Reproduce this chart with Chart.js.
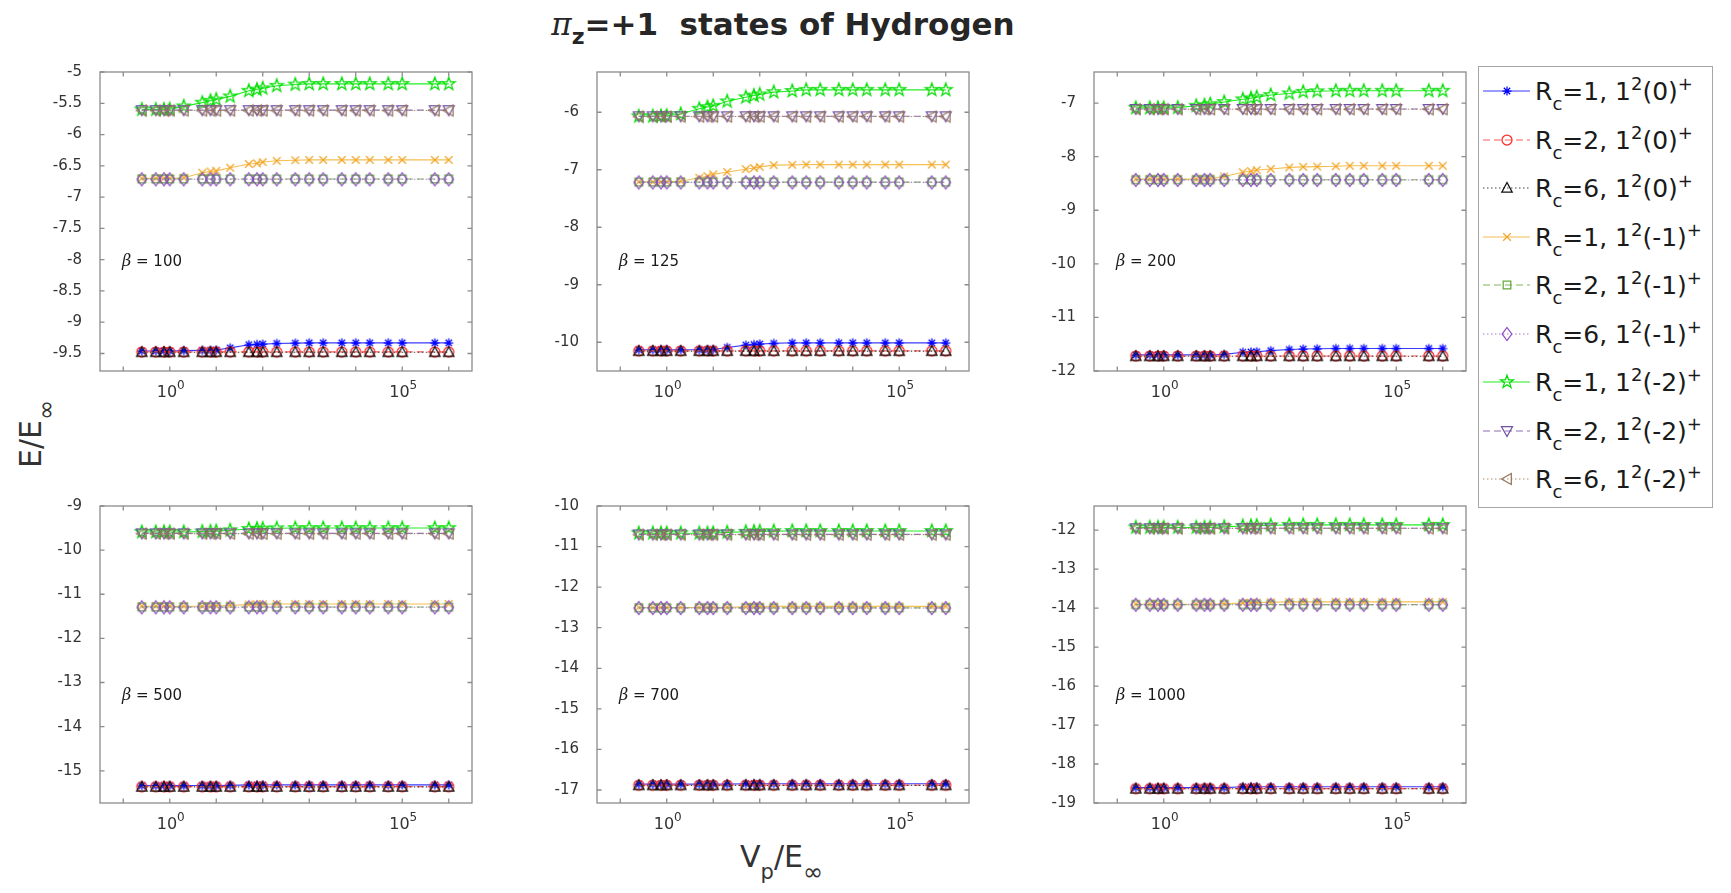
<!DOCTYPE html>
<html>
<head>
<meta charset="utf-8">
<title>pi_z=+1 states of Hydrogen</title>
<script src="https://cdn.jsdelivr.net/npm/chart.js@4.4.1/dist/chart.umd.min.js"></script>
<style>
  html, body { margin: 0; padding: 0; background: #fff; }
  body { width: 1731px; height: 893px; position: relative; overflow: hidden; font-family: 'DejaVu Sans', sans-serif; color: #262626; }
  .panel { position: absolute; }
  .title { position: absolute; left: 0; width: 1566px; top: 6px; text-align: center; font: bold 31px/31px 'DejaVu Sans', sans-serif; white-space: nowrap; }
  .xlabel { position: absolute; left: 0; width: 1563px; top: 842px; text-align: center; font: 30px/30px 'DejaVu Sans', sans-serif; white-space: nowrap; color: #333; }
  .ylabel { position: absolute; left: 32px; top: 434px; transform: translate(-50%, -50%) rotate(-90deg); font: 30px/30px 'DejaVu Sans', sans-serif; white-space: nowrap; color: #333; }
  .lo { position: relative; }
  .legend { position: absolute; left: 1478px; top: 66px; width: 235px; height: 442px; box-sizing: border-box; border: 1.5px solid #a6a6a6; background: #fff; }
  .row { position: absolute; left: 0; width: 100%; height: 48px; }
  .row canvas { position: absolute; left: 4px; top: 14px; }
  .row .txt { position: absolute; left: 56px; top: 12px; font: 25px/25px 'DejaVu Sans', sans-serif; white-space: nowrap; color: #1a1a1a; }
</style>
</head>
<body>
<div class="title"><span style="font: italic 400 31px 'DejaVu Serif', serif;">π</span><span class="lo" style="font-size:22px; top:9px;">z</span>=+1&nbsp;&nbsp;states of Hydrogen</div>
<div class="xlabel">V<span class="lo" style="font-size:21px; top:12px;">p</span>/E<span class="lo" style="font-size:24px; top:13px;">∞</span></div>
<div class="ylabel">E/E<span class="lo" style="font-size:24px; top:13px;">∞</span></div>
<div class="legend" id="legend"></div>
<script>
// V_p / E_inf sample points (same for every panel)
const vp = [0.25, 0.5, 0.75, 1, 2, 5, 7.5, 10, 20, 50, 75, 100, 200, 500, 1000, 2000, 5000, 1e4, 2e4, 5e4, 1e5, 5e5, 1e6];
const betas = [100, 125, 200, 500, 700, 1000];

// x ticks (log axis), only 10^0 and 10^5 labelled
const xTickValues = [0.1, 1, 10, 100, 1000, 1e4, 1e5, 1e6];
const xTickExp = ['', '0', '', '', '', '', '5', ''];

// y ticks and limits per panel
const yTicks100 = [-9.5, -9, -8.5, -8, -7.5, -7, -6.5, -6, -5.5, -5];
const yTicks125 = [-10, -9, -8, -7, -6];
const yTicks200 = [-12, -11, -10, -9, -8, -7];
const yTicks500 = [-15, -14, -13, -12, -11, -10, -9];
const yTicks700 = [-17, -16, -15, -14, -13, -12, -11, -10];
const yTicks1000 = [-19, -18, -17, -16, -15, -14, -13, -12];
const yMins = [-9.78, -10.5, -12, -15.73, -17.32, -19];
const yMaxs = [-5, -5.3, -6.42, -9, -10, -11.38];

// legend labels
const legendRc = [1, 2, 6, 1, 2, 6, 1, 2, 6];
const legendState = ['0', '0', '0', '-1', '-1', '-1', '-2', '-2', '-2'];

// beta = 100
const b100_R1_0 = [-9.46, -9.46, -9.46, -9.46, -9.455, -9.45, -9.45, -9.445, -9.41, -9.36, -9.355, -9.35, -9.34, -9.335, -9.33, -9.33, -9.33, -9.33, -9.33, -9.33, -9.33, -9.33, -9.33];
const b100_R2_0 = [-9.475, -9.475, -9.475, -9.475, -9.475, -9.475, -9.475, -9.475, -9.475, -9.475, -9.475, -9.475, -9.475, -9.475, -9.475, -9.475, -9.475, -9.475, -9.475, -9.475, -9.475, -9.475, -9.475];
const b100_R6_0 = [-9.48, -9.48, -9.48, -9.48, -9.48, -9.48, -9.48, -9.48, -9.48, -9.48, -9.48, -9.48, -9.48, -9.48, -9.48, -9.48, -9.48, -9.48, -9.48, -9.48, -9.48, -9.48, -9.48];
const b100_R1_1 = [-6.70, -6.70, -6.70, -6.70, -6.69, -6.61, -6.59, -6.58, -6.53, -6.47, -6.46, -6.44, -6.42, -6.41, -6.405, -6.405, -6.405, -6.405, -6.405, -6.405, -6.405, -6.405, -6.405];
const b100_R2_1 = [-6.71, -6.71, -6.71, -6.71, -6.71, -6.71, -6.71, -6.71, -6.71, -6.71, -6.71, -6.71, -6.71, -6.71, -6.71, -6.71, -6.71, -6.71, -6.71, -6.71, -6.71, -6.71, -6.71];
const b100_R6_1 = [-6.715, -6.715, -6.715, -6.715, -6.715, -6.715, -6.715, -6.715, -6.715, -6.715, -6.715, -6.715, -6.715, -6.715, -6.715, -6.715, -6.715, -6.715, -6.715, -6.715, -6.715, -6.715, -6.715];
const b100_R1_2 = [-5.60, -5.60, -5.60, -5.595, -5.55, -5.49, -5.46, -5.44, -5.39, -5.30, -5.28, -5.26, -5.22, -5.20, -5.19, -5.19, -5.19, -5.19, -5.19, -5.19, -5.19, -5.19, -5.19];
const b100_R2_2 = [-5.61, -5.61, -5.61, -5.61, -5.61, -5.61, -5.61, -5.61, -5.61, -5.61, -5.61, -5.61, -5.61, -5.61, -5.61, -5.61, -5.61, -5.61, -5.61, -5.61, -5.61, -5.61, -5.61];
const b100_R6_2 = [-5.615, -5.615, -5.615, -5.615, -5.615, -5.615, -5.615, -5.615, -5.615, -5.615, -5.615, -5.615, -5.615, -5.615, -5.615, -5.615, -5.615, -5.615, -5.615, -5.615, -5.615, -5.615, -5.615];

// beta = 125
const b125_R1_0 = [-10.13, -10.13, -10.13, -10.13, -10.13, -10.13, -10.13, -10.125, -10.09, -10.05, -10.04, -10.03, -10.02, -10.01, -10.01, -10.01, -10.01, -10.01, -10.01, -10.01, -10.01, -10.01, -10.01];
const b125_R2_0 = [-10.15, -10.15, -10.15, -10.15, -10.15, -10.15, -10.15, -10.15, -10.15, -10.15, -10.15, -10.15, -10.15, -10.15, -10.15, -10.15, -10.15, -10.15, -10.15, -10.15, -10.15, -10.15, -10.15];
const b125_R6_0 = [-10.155, -10.155, -10.155, -10.155, -10.155, -10.155, -10.155, -10.155, -10.155, -10.155, -10.155, -10.155, -10.155, -10.155, -10.155, -10.155, -10.155, -10.155, -10.155, -10.155, -10.155, -10.155, -10.155];
const b125_R1_1 = [-7.21, -7.21, -7.21, -7.21, -7.20, -7.14, -7.11, -7.08, -7.04, -6.99, -6.97, -6.95, -6.92, -6.915, -6.91, -6.91, -6.91, -6.91, -6.91, -6.91, -6.91, -6.91, -6.91];
const b125_R2_1 = [-7.215, -7.215, -7.215, -7.215, -7.215, -7.215, -7.215, -7.215, -7.215, -7.215, -7.215, -7.215, -7.215, -7.215, -7.215, -7.215, -7.215, -7.215, -7.215, -7.215, -7.215, -7.215, -7.215];
const b125_R6_1 = [-7.22, -7.22, -7.22, -7.22, -7.22, -7.22, -7.22, -7.22, -7.22, -7.22, -7.22, -7.22, -7.22, -7.22, -7.22, -7.22, -7.22, -7.22, -7.22, -7.22, -7.22, -7.22, -7.22];
const b125_R1_2 = [-6.07, -6.07, -6.065, -6.06, -6.03, -5.94, -5.91, -5.89, -5.81, -5.74, -5.71, -5.69, -5.65, -5.63, -5.61, -5.61, -5.61, -5.61, -5.61, -5.61, -5.61, -5.61, -5.61];
const b125_R2_2 = [-6.07, -6.07, -6.07, -6.07, -6.07, -6.07, -6.07, -6.07, -6.07, -6.07, -6.07, -6.07, -6.07, -6.07, -6.07, -6.07, -6.07, -6.07, -6.07, -6.07, -6.07, -6.07, -6.07];
const b125_R6_2 = [-6.075, -6.075, -6.075, -6.075, -6.075, -6.075, -6.075, -6.075, -6.075, -6.075, -6.075, -6.075, -6.075, -6.075, -6.075, -6.075, -6.075, -6.075, -6.075, -6.075, -6.075, -6.075, -6.075];

// beta = 200
const b200_R1_0 = [-11.70, -11.70, -11.70, -11.70, -11.70, -11.70, -11.70, -11.70, -11.69, -11.65, -11.645, -11.64, -11.62, -11.60, -11.59, -11.585, -11.58, -11.58, -11.58, -11.58, -11.58, -11.58, -11.58];
const b200_R2_0 = [-11.72, -11.72, -11.72, -11.72, -11.72, -11.72, -11.72, -11.72, -11.72, -11.72, -11.72, -11.72, -11.72, -11.72, -11.72, -11.72, -11.72, -11.72, -11.72, -11.72, -11.72, -11.72, -11.72];
const b200_R6_0 = [-11.725, -11.725, -11.725, -11.725, -11.725, -11.725, -11.725, -11.725, -11.725, -11.725, -11.725, -11.725, -11.725, -11.725, -11.725, -11.725, -11.725, -11.725, -11.725, -11.725, -11.725, -11.725, -11.725];
const b200_R1_1 = [-8.42, -8.42, -8.42, -8.42, -8.42, -8.42, -8.42, -8.41, -8.37, -8.29, -8.27, -8.25, -8.23, -8.20, -8.19, -8.185, -8.18, -8.17, -8.17, -8.17, -8.17, -8.17, -8.17];
const b200_R2_1 = [-8.43, -8.43, -8.43, -8.43, -8.43, -8.43, -8.43, -8.43, -8.43, -8.43, -8.43, -8.43, -8.43, -8.43, -8.43, -8.43, -8.43, -8.43, -8.43, -8.43, -8.43, -8.43, -8.43];
const b200_R6_1 = [-8.435, -8.435, -8.435, -8.435, -8.435, -8.435, -8.435, -8.435, -8.435, -8.435, -8.435, -8.435, -8.435, -8.435, -8.435, -8.435, -8.435, -8.435, -8.435, -8.435, -8.435, -8.435, -8.435];
const b200_R1_2 = [-7.09, -7.09, -7.09, -7.09, -7.085, -7.05, -7.04, -7.02, -6.98, -6.93, -6.91, -6.89, -6.85, -6.82, -6.79, -6.78, -6.77, -6.77, -6.77, -6.77, -6.77, -6.77, -6.77];
const b200_R2_2 = [-7.11, -7.11, -7.11, -7.11, -7.11, -7.11, -7.11, -7.11, -7.11, -7.11, -7.11, -7.11, -7.11, -7.11, -7.11, -7.11, -7.11, -7.11, -7.11, -7.11, -7.11, -7.11, -7.11];
const b200_R6_2 = [-7.115, -7.115, -7.115, -7.115, -7.115, -7.115, -7.115, -7.115, -7.115, -7.115, -7.115, -7.115, -7.115, -7.115, -7.115, -7.115, -7.115, -7.115, -7.115, -7.115, -7.115, -7.115, -7.115];

// beta = 500
const b500_R1_0 = [-15.335, -15.335, -15.335, -15.335, -15.335, -15.335, -15.335, -15.335, -15.33, -15.32, -15.32, -15.32, -15.32, -15.32, -15.32, -15.32, -15.32, -15.32, -15.32, -15.32, -15.32, -15.32, -15.32];
const b500_R2_0 = [-15.36, -15.36, -15.36, -15.36, -15.36, -15.36, -15.36, -15.36, -15.36, -15.36, -15.36, -15.36, -15.36, -15.36, -15.36, -15.36, -15.36, -15.36, -15.36, -15.36, -15.36, -15.36, -15.36];
const b500_R6_0 = [-15.365, -15.365, -15.365, -15.365, -15.365, -15.365, -15.365, -15.365, -15.365, -15.365, -15.365, -15.365, -15.365, -15.365, -15.365, -15.365, -15.365, -15.365, -15.365, -15.365, -15.365, -15.365, -15.365];
const b500_R1_1 = [-11.27, -11.27, -11.27, -11.27, -11.27, -11.27, -11.27, -11.265, -11.25, -11.235, -11.23, -11.225, -11.22, -11.22, -11.22, -11.22, -11.22, -11.22, -11.22, -11.22, -11.22, -11.22, -11.22];
const b500_R2_1 = [-11.29, -11.29, -11.29, -11.29, -11.29, -11.29, -11.29, -11.29, -11.29, -11.29, -11.29, -11.29, -11.29, -11.29, -11.29, -11.29, -11.29, -11.29, -11.29, -11.29, -11.29, -11.29, -11.29];
const b500_R6_1 = [-11.295, -11.295, -11.295, -11.295, -11.295, -11.295, -11.295, -11.295, -11.295, -11.295, -11.295, -11.295, -11.295, -11.295, -11.295, -11.295, -11.295, -11.295, -11.295, -11.295, -11.295, -11.295, -11.295];
const b500_R1_2 = [-9.59, -9.59, -9.59, -9.59, -9.59, -9.58, -9.575, -9.57, -9.55, -9.52, -9.515, -9.51, -9.505, -9.50, -9.50, -9.50, -9.50, -9.50, -9.50, -9.50, -9.50, -9.50, -9.50];
const b500_R2_2 = [-9.62, -9.62, -9.62, -9.62, -9.62, -9.62, -9.62, -9.62, -9.62, -9.62, -9.62, -9.62, -9.62, -9.62, -9.62, -9.62, -9.62, -9.62, -9.62, -9.62, -9.62, -9.62, -9.62];
const b500_R6_2 = [-9.625, -9.625, -9.625, -9.625, -9.625, -9.625, -9.625, -9.625, -9.625, -9.625, -9.625, -9.625, -9.625, -9.625, -9.625, -9.625, -9.625, -9.625, -9.625, -9.625, -9.625, -9.625, -9.625];

// beta = 700
const b700_R1_0 = [-16.855, -16.855, -16.855, -16.855, -16.855, -16.855, -16.855, -16.855, -16.855, -16.845, -16.845, -16.845, -16.845, -16.845, -16.845, -16.845, -16.845, -16.845, -16.845, -16.845, -16.845, -16.845, -16.845];
const b700_R2_0 = [-16.88, -16.88, -16.88, -16.88, -16.88, -16.88, -16.88, -16.88, -16.88, -16.88, -16.88, -16.88, -16.88, -16.88, -16.88, -16.88, -16.88, -16.88, -16.88, -16.88, -16.88, -16.88, -16.88];
const b700_R6_0 = [-16.885, -16.885, -16.885, -16.885, -16.885, -16.885, -16.885, -16.885, -16.885, -16.885, -16.885, -16.885, -16.885, -16.885, -16.885, -16.885, -16.885, -16.885, -16.885, -16.885, -16.885, -16.885, -16.885];
const b700_R1_1 = [-12.50, -12.50, -12.50, -12.50, -12.50, -12.50, -12.50, -12.50, -12.495, -12.485, -12.48, -12.48, -12.475, -12.475, -12.475, -12.475, -12.475, -12.475, -12.475, -12.475, -12.475, -12.475, -12.475];
const b700_R2_1 = [-12.51, -12.51, -12.51, -12.51, -12.51, -12.51, -12.51, -12.51, -12.51, -12.51, -12.51, -12.51, -12.51, -12.51, -12.51, -12.51, -12.51, -12.51, -12.51, -12.51, -12.51, -12.51, -12.51];
const b700_R6_1 = [-12.515, -12.515, -12.515, -12.515, -12.515, -12.515, -12.515, -12.515, -12.515, -12.515, -12.515, -12.515, -12.515, -12.515, -12.515, -12.515, -12.515, -12.515, -12.515, -12.515, -12.515, -12.515, -12.515];
const b700_R1_2 = [-10.67, -10.67, -10.67, -10.67, -10.67, -10.67, -10.67, -10.665, -10.65, -10.635, -10.63, -10.625, -10.62, -10.615, -10.615, -10.615, -10.615, -10.615, -10.615, -10.615, -10.615, -10.615, -10.615];
const b700_R2_2 = [-10.70, -10.70, -10.70, -10.70, -10.70, -10.70, -10.70, -10.70, -10.70, -10.70, -10.70, -10.70, -10.70, -10.70, -10.70, -10.70, -10.70, -10.70, -10.70, -10.70, -10.70, -10.70, -10.70];
const b700_R6_2 = [-10.705, -10.705, -10.705, -10.705, -10.705, -10.705, -10.705, -10.705, -10.705, -10.705, -10.705, -10.705, -10.705, -10.705, -10.705, -10.705, -10.705, -10.705, -10.705, -10.705, -10.705, -10.705, -10.705];

// beta = 1000
const b1000_R1_0 = [-18.605, -18.605, -18.605, -18.605, -18.605, -18.605, -18.605, -18.605, -18.605, -18.585, -18.585, -18.585, -18.585, -18.585, -18.585, -18.585, -18.585, -18.585, -18.585, -18.585, -18.585, -18.585, -18.585];
const b1000_R2_0 = [-18.63, -18.63, -18.63, -18.63, -18.63, -18.63, -18.63, -18.63, -18.63, -18.63, -18.63, -18.63, -18.63, -18.63, -18.63, -18.63, -18.63, -18.63, -18.63, -18.63, -18.63, -18.63, -18.63];
const b1000_R6_0 = [-18.635, -18.635, -18.635, -18.635, -18.635, -18.635, -18.635, -18.635, -18.635, -18.635, -18.635, -18.635, -18.635, -18.635, -18.635, -18.635, -18.635, -18.635, -18.635, -18.635, -18.635, -18.635, -18.635];
const b1000_R1_1 = [-13.90, -13.90, -13.90, -13.90, -13.90, -13.90, -13.90, -13.90, -13.89, -13.87, -13.865, -13.86, -13.85, -13.84, -13.84, -13.84, -13.84, -13.84, -13.84, -13.84, -13.84, -13.84, -13.84];
const b1000_R2_1 = [-13.91, -13.91, -13.91, -13.91, -13.91, -13.91, -13.91, -13.91, -13.91, -13.91, -13.91, -13.91, -13.91, -13.91, -13.91, -13.91, -13.91, -13.91, -13.91, -13.91, -13.91, -13.91, -13.91];
const b1000_R6_1 = [-13.915, -13.915, -13.915, -13.915, -13.915, -13.915, -13.915, -13.915, -13.915, -13.915, -13.915, -13.915, -13.915, -13.915, -13.915, -13.915, -13.915, -13.915, -13.915, -13.915, -13.915, -13.915, -13.915];
const b1000_R1_2 = [-11.93, -11.93, -11.93, -11.93, -11.93, -11.93, -11.93, -11.93, -11.915, -11.895, -11.89, -11.885, -11.875, -11.865, -11.865, -11.865, -11.865, -11.865, -11.865, -11.865, -11.865, -11.865, -11.865];
const b1000_R2_2 = [-11.95, -11.95, -11.95, -11.95, -11.95, -11.95, -11.95, -11.95, -11.95, -11.95, -11.95, -11.95, -11.95, -11.95, -11.95, -11.95, -11.95, -11.95, -11.95, -11.95, -11.95, -11.95, -11.95];
const b1000_R6_2 = [-11.955, -11.955, -11.955, -11.955, -11.955, -11.955, -11.955, -11.955, -11.955, -11.955, -11.955, -11.955, -11.955, -11.955, -11.955, -11.955, -11.955, -11.955, -11.955, -11.955, -11.955, -11.955, -11.955];

const panelSeries = [
  [b100_R1_0, b100_R2_0, b100_R6_0, b100_R1_1, b100_R2_1, b100_R6_1, b100_R1_2, b100_R2_2, b100_R6_2],
  [b125_R1_0, b125_R2_0, b125_R6_0, b125_R1_1, b125_R2_1, b125_R6_1, b125_R1_2, b125_R2_2, b125_R6_2],
  [b200_R1_0, b200_R2_0, b200_R6_0, b200_R1_1, b200_R2_1, b200_R6_1, b200_R1_2, b200_R2_2, b200_R6_2],
  [b500_R1_0, b500_R2_0, b500_R6_0, b500_R1_1, b500_R2_1, b500_R6_1, b500_R1_2, b500_R2_2, b500_R6_2],
  [b700_R1_0, b700_R2_0, b700_R6_0, b700_R1_1, b700_R2_1, b700_R6_1, b700_R1_2, b700_R2_2, b700_R6_2],
  [b1000_R1_0, b1000_R2_0, b1000_R6_0, b1000_R1_1, b1000_R2_1, b1000_R6_1, b1000_R1_2, b1000_R2_2, b1000_R6_2]
];
const panelYTicks = [yTicks100, yTicks125, yTicks200, yTicks500, yTicks700, yTicks1000];

// plot boxes on the page: left, top, right, bottom
const panelBoxes = [
  [100, 65, 472, 371], [597, 65, 969, 371], [1094, 65, 1466, 371],
  [100, 499, 472, 803], [597, 499, 969, 803], [1094, 499, 1466, 803]
];

const DASH = [7, 4];
const DOT = [1.5, 2.5];
const styles = [
  { line: '#3a3aff', dash: [], mk: 'asterisk', mc: '#0000ff' },
  { line: '#ff5a5a', dash: DASH, mk: 'circle', mc: '#ff2a2a' },
  { line: '#444444', dash: DOT, mk: 'triUp', mc: '#111111' },
  { line: '#f7be50', dash: [], mk: 'cross', mc: '#f0a528' },
  { line: '#7fba55', dash: DASH, mk: 'square', mc: '#62a83a' },
  { line: '#a978d0', dash: DOT, mk: 'diamond', mc: '#8c48c4' },
  { line: '#22ee22', dash: [], mk: 'pentagram', mc: '#00dd00' },
  { line: '#8a6cb4', dash: DASH, mk: 'triDown', mc: '#7050a4' },
  { line: '#a8896c', dash: DOT, mk: 'triLeft', mc: '#94735a' }
];

// matlab-like open markers drawn on small canvases
function makeMarker(kind, color) {
  const c = document.createElement('canvas');
  c.width = 18; c.height = 18;
  const g = c.getContext('2d');
  g.strokeStyle = color;
  g.lineWidth = 1.25;
  g.translate(9, 9);
  g.beginPath();
  const poly = pts => {
    g.moveTo(pts[0][0], pts[0][1]);
    for (let i = 1; i < pts.length; i++) g.lineTo(pts[i][0], pts[i][1]);
    g.closePath();
  };
  if (kind === 'asterisk') {
    [[4.5, 0], [0, 4.5], [3.2, 3.2], [3.2, -3.2]].forEach(([dx, dy]) => { g.moveTo(-dx, -dy); g.lineTo(dx, dy); });
  } else if (kind === 'circle') {
    g.arc(0, 0, 5, 0, Math.PI * 2);
  } else if (kind === 'triUp') {
    poly([[0, -5.5], [5.2, 4.2], [-5.2, 4.2]]);
  } else if (kind === 'cross') {
    g.moveTo(-3.8, -3.8); g.lineTo(3.8, 3.8); g.moveTo(-3.8, 3.8); g.lineTo(3.8, -3.8);
  } else if (kind === 'square') {
    g.rect(-3.8, -3.8, 7.6, 7.6);
  } else if (kind === 'diamond') {
    poly([[0, -6.5], [4.8, 0], [0, 6.5], [-4.8, 0]]);
  } else if (kind === 'pentagram') {
    const pts = [];
    for (let k = 0; k < 10; k++) {
      const r = k % 2 ? 2.7 : 6.8;
      const a = -Math.PI / 2 + k * Math.PI / 5;
      pts.push([r * Math.cos(a), r * Math.sin(a)]);
    }
    poly(pts);
  } else if (kind === 'triDown') {
    poly([[0, 5.5], [5.5, -4.3], [-5.5, -4.3]]);
  } else if (kind === 'triLeft') {
    poly([[-5.5, 0], [4.3, -5.5], [4.3, 5.5]]);
  }
  g.stroke();
  return c;
}
const markers = styles.map(s => makeMarker(s.mk, s.mc));

// box with inward ticks on all four sides, 10^n labels and beta text
const matlabBox = {
  id: 'matlabBox',
  afterDraw(chart, args, opts) {
    const { ctx, chartArea: a, scales: { x, y } } = chart;
    ctx.save();
    ctx.strokeStyle = '#8c8c8c';
    ctx.lineWidth = 1.3;
    ctx.strokeRect(a.left, a.top, a.right - a.left, a.bottom - a.top);
    ctx.beginPath();
    x.ticks.forEach(t => {
      const px = x.getPixelForValue(t.value);
      ctx.moveTo(px, a.bottom); ctx.lineTo(px, a.bottom - 4.5);
      ctx.moveTo(px, a.top); ctx.lineTo(px, a.top + 4.5);
    });
    y.ticks.forEach(t => {
      const py = y.getPixelForValue(t.value);
      ctx.moveTo(a.left, py); ctx.lineTo(a.left + 4.5, py);
      ctx.moveTo(a.right, py); ctx.lineTo(a.right - 4.5, py);
    });
    ctx.stroke();

    // x tick labels as 10 with a raised exponent
    ctx.fillStyle = '#333';
    ctx.textBaseline = 'alphabetic';
    ctx.textAlign = 'left';
    x.ticks.forEach((t, i) => {
      const e = xTickExp[i];
      if (!e) return;
      const px = x.getPixelForValue(t.value);
      ctx.font = "16px 'DejaVu Sans', sans-serif";
      const wb = ctx.measureText('10').width;
      ctx.font = "12px 'DejaVu Sans', sans-serif";
      const we = ctx.measureText(e).width;
      const x0 = px - (wb + we) / 2 + 1;
      ctx.font = "16px 'DejaVu Sans', sans-serif";
      ctx.fillText('10', x0, a.bottom + 26);
      ctx.font = "12px 'DejaVu Sans', sans-serif";
      ctx.fillText(e, x0 + wb, a.bottom + 18);
    });

    // beta label
    ctx.fillStyle = '#1a1a1a';
    ctx.textBaseline = 'middle';
    const bx = a.left + 22, by = a.top + 190;
    ctx.font = "italic 16px 'DejaVu Serif', serif";
    ctx.fillText('β', bx, by);
    const w = ctx.measureText('β').width;
    ctx.font = "15px 'DejaVu Sans', sans-serif";
    ctx.fillText(' = ' + opts.beta, bx + w, by);
    ctx.restore();
  }
};

Chart.defaults.font.family = "'DejaVu Sans', sans-serif";
Chart.defaults.font.size = 15;
Chart.defaults.color = '#333';

panelBoxes.forEach(([L, T, R, B], p) => {
  const wrap = document.createElement('div');
  wrap.className = 'panel';
  wrap.style.left = (L - 60) + 'px';
  wrap.style.top = (T - 12) + 'px';
  const cv = document.createElement('canvas');
  cv.width = R - L + 70;
  cv.height = B - T + 57;
  wrap.appendChild(cv);
  document.body.appendChild(wrap);

  new Chart(cv, {
    type: 'line',
    data: {
      datasets: panelSeries[p].map((arr, i) => ({
        data: vp.map((x, k) => ({ x: x, y: arr[k] })),
        borderColor: styles[i].line,
        borderWidth: 1.1,
        borderDash: styles[i].dash,
        pointStyle: markers[i],
        pointRadius: 5,
        pointBackgroundColor: 'transparent',
        pointBorderColor: styles[i].mc,
        fill: false,
        tension: 0,
        order: 9 - i
      }))
    },
    options: {
      responsive: false,
      animation: false,
      devicePixelRatio: 1,
      layout: { padding: { left: 0, top: 12, right: 10, bottom: 0 } },
      plugins: {
        legend: { display: false },
        tooltip: { enabled: false },
        matlabBox: { beta: betas[p] }
      },
      scales: {
        x: {
          type: 'logarithmic',
          min: Math.pow(10, -1.5),
          max: Math.pow(10, 6.5),
          grid: { display: false },
          border: { display: false },
          afterBuildTicks: s => { s.ticks = xTickValues.map(v => ({ value: v })); },
          afterFit: s => { s.height = 45; },
          ticks: { autoSkip: false, maxRotation: 0, minRotation: 0, callback: () => '' }
        },
        y: {
          type: 'linear',
          min: yMins[p],
          max: yMaxs[p],
          grid: { display: false },
          border: { display: false },
          afterBuildTicks: s => { s.ticks = panelYTicks[p].map(v => ({ value: v })); },
          afterFit: s => { s.width = 60; },
          ticks: { autoSkip: false, padding: 10, callback: v => String(v) }
        }
      }
    },
    plugins: [matlabBox]
  });
});

// legend
const legend = document.getElementById('legend');
styles.forEach((s, i) => {
  const row = document.createElement('div');
  row.className = 'row';
  row.style.top = (48.5 * i) + 'px';
  const c = document.createElement('canvas');
  c.width = 50; c.height = 20;
  const g = c.getContext('2d');
  g.strokeStyle = s.line;
  g.lineWidth = 1.2;
  g.setLineDash(s.dash);
  g.beginPath(); g.moveTo(0, 10); g.lineTo(47, 10); g.stroke();
  g.setLineDash([]);
  g.drawImage(markers[i], 24 - 9, 10 - 9);
  row.appendChild(c);
  const t = document.createElement('div');
  t.className = 'txt';
  t.innerHTML = 'R<span class="lo" style="font-size:18px; top:10px;">c</span>=' + legendRc[i] +
    ', 1<span class="lo" style="font-size:18px; top:-10px;">2</span>(' + legendState[i] +
    ')<span class="lo" style="font-size:18px; top:-10px;">+</span>';
  row.appendChild(t);
  legend.appendChild(row);
});
</script>
</body>
</html>
